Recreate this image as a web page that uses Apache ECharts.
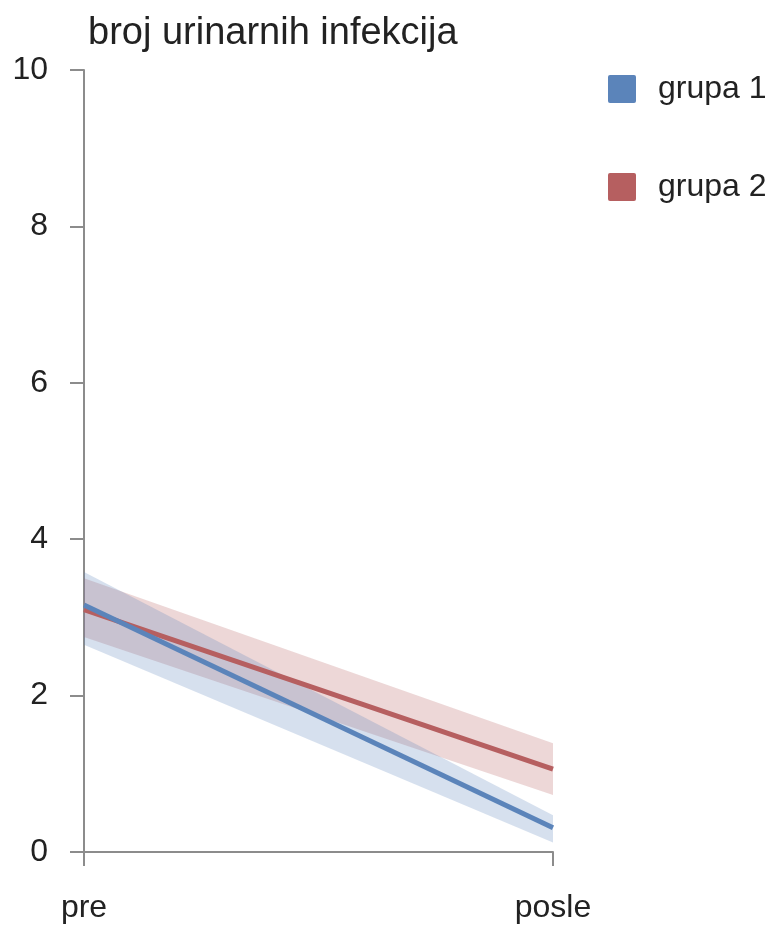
<!DOCTYPE html>
<html>
<head>
<meta charset="utf-8">
<script src="https://cdn.jsdelivr.net/npm/echarts@6/dist/echarts.min.js"></script>
<style>
  html, body { margin: 0; padding: 0; background: #ffffff; }
  #chart { width: 776px; height: 926px; }
</style>
</head>
<body>
<div id="chart"></div>
<script>
// Time points
const categories = ['pre', 'posle'];

// grupa 1: mean and confidence band
const group1Mean  = [3.16, 0.31];
const group1Lower = [2.65, 0.12];
const group1Upper = [3.58, 0.47];

// grupa 2: mean and confidence band
const group2Mean  = [3.10, 1.06];
const group2Lower = [2.75, 0.73];
const group2Upper = [3.50, 1.39];

const yTicks = [0, 2, 4, 6, 8, 10];

const blue = '#5b84ba';
const red = '#b65f60';
const axisGray = '#8c8c8c';
const font = '"Liberation Sans", Arial, Helvetica, sans-serif';

const width = (lo, hi) => hi.map((v, i) => +(v - lo[i]).toFixed(4));

function bandSeries(stackId, lower, upper, color) {
  return [
    {
      type: 'line', stack: stackId, data: lower, symbol: 'none',
      lineStyle: { opacity: 0 }, silent: true, z: 1
    },
    {
      type: 'line', stack: stackId, data: width(lower, upper), symbol: 'none',
      lineStyle: { opacity: 0 }, areaStyle: { color: color, opacity: 0.25 },
      silent: true, z: 1
    }
  ];
}

const chart = echarts.init(document.getElementById('chart'), null, { renderer: 'canvas' });

chart.setOption({
  animation: false,
  backgroundColor: '#ffffff',
  title: {
    text: 'broj urinarnih infekcija',
    left: 83, top: 10,
    textStyle: { fontFamily: font, fontSize: 38, fontWeight: 'normal', color: '#222222' }
  },
  legend: {
    orient: 'vertical',
    left: 603, top: 68,
    itemWidth: 28, itemHeight: 28, itemGap: 66,
    icon: 'path://M2,0 L26,0 Q28,0 28,2 L28,26 Q28,28 26,28 L2,28 Q0,28 0,26 L0,2 Q0,0 2,0 Z',
    data: ['grupa 1', 'grupa 2'],
    textStyle: { fontFamily: font, fontSize: 32, color: '#222222', padding: [0, 0, 0, 17], lineHeight: 28 }
  },
  grid: { left: 84, right: 223, top: 70, bottom: 74 },
  xAxis: {
    type: 'category',
    data: categories,
    boundaryGap: false,
    axisLine: { lineStyle: { color: axisGray, width: 2 } },
    axisTick: { show: true, length: 14, lineStyle: { color: axisGray, width: 2 } },
    axisLabel: { margin: 40, fontFamily: font, fontSize: 32, color: '#222222' },
    splitLine: { show: false }
  },
  yAxis: {
    type: 'value',
    min: yTicks[0], max: yTicks[yTicks.length - 1], interval: 2,
    axisLine: { show: true, lineStyle: { color: axisGray, width: 2 } },
    axisTick: { show: true, length: 14, lineStyle: { color: axisGray, width: 2 } },
    axisLabel: { margin: 36, fontFamily: font, fontSize: 32, color: '#222222' },
    splitLine: { show: false }
  },
  series: [
    ...bandSeries('band2', group2Lower, group2Upper, red),
    ...bandSeries('band1', group1Lower, group1Upper, blue),
    {
      name: 'grupa 2', type: 'line', data: group2Mean, symbol: 'none',
      itemStyle: { color: red }, lineStyle: { color: red, width: 5 }, z: 3
    },
    {
      name: 'grupa 1', type: 'line', data: group1Mean, symbol: 'none',
      itemStyle: { color: blue }, lineStyle: { color: blue, width: 5 }, z: 4
    }
  ]
});
</script>
</body>
</html>
